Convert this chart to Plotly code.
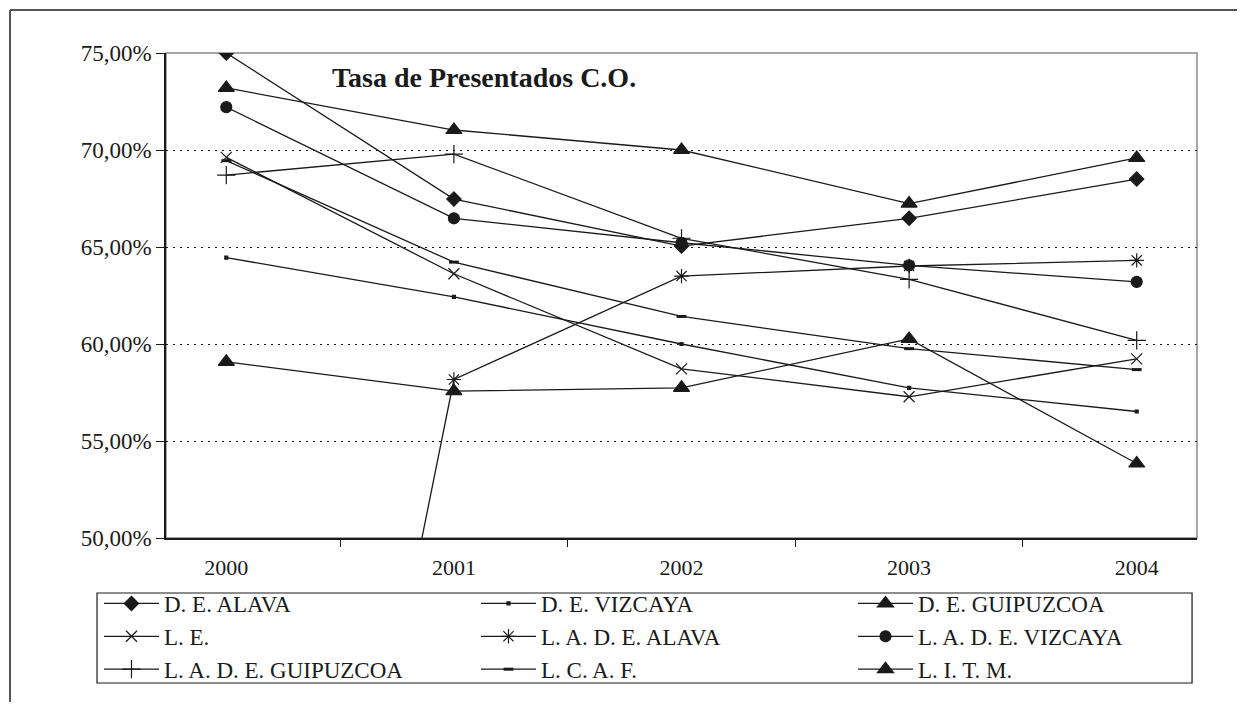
import plotly.graph_objects as go

years = ["2000", "2001", "2002", "2003", "2004"]

de_alava = [75.0, 67.47, 65.05, 66.48, 68.5]
de_vizcaya = [64.45, 62.43, 60.0, 57.74, 56.52]
de_guipuzcoa = [73.2, 71.03, 70.0, 67.24, 69.59]
le = [69.62, 63.62, 58.72, 57.28, 59.23]
lade_alava = [0.0, 58.17, 63.5, 64.02, 64.31]
lade_vizcaya = [72.21, 66.48, 65.22, 64.05, 63.2]
lade_guipuzcoa = [68.71, 69.79, 65.45, 63.33, 60.19]
lcaf = [69.45, 64.22, 61.42, 59.76, 58.68]
litm = [59.08, 57.57, 57.74, 60.26, 53.84]

series = [
    ("D. E. ALAVA", de_alava, "diamond", 11),
    ("D. E. VIZCAYA", de_vizcaya, "square", 3),
    ("D. E. GUIPUZCOA", de_guipuzcoa, "triangle-up", 14),
    ("L. E.", le, "x-thin-open", 11),
    ("L. A. D. E. ALAVA", lade_alava, "asterisk-open", 12),
    ("L. A. D. E. VIZCAYA", lade_vizcaya, "circle", 11),
    ("L. A. D. E. GUIPUZCOA", lade_guipuzcoa, "cross-thin-open", 13),
    ("L. C. A. F.", lcaf, "line-ew-open", 7),
    ("L. I. T. M.", litm, "triangle-up", 14),
]

SERIF = "Liberation Serif, Times New Roman, serif"

fig = go.Figure()
for name, values, symbol, size in series:
    marker = dict(symbol=symbol, size=size, color="#1a1a1a",
                  line=dict(color="#1a1a1a", width=1.2))
    if symbol == "line-ew-open":
        marker["line"]["width"] = 3
    fig.add_trace(go.Scatter(
        x=years, y=values, name=name, mode="lines+markers",
        line=dict(color="#1a1a1a", width=1.3),
        marker=marker,
    ))

# the page adds an 8px body margin, so the figure is shrunk and shifted by 8px
fig.update_layout(
    width=1229, height=694,
    margin=dict(l=158, r=40, t=45, b=164, autoexpand=False),
    paper_bgcolor="white", plot_bgcolor="white",
    separators=",.",
    font=dict(family=SERIF, size=22, color="#1a1a1a"),
    showlegend=True,
    legend=dict(
        orientation="h", x=-0.065, y=-0.0906, xanchor="left", yanchor="top",
        entrywidth=307, itemwidth=55, borderwidth=0,
        bgcolor="rgba(0,0,0,0)",
        font=dict(family=SERIF, size=23, color="#1a1a1a"),
        traceorder="normal",
    ),
    annotations=[dict(
        text="<b>Tasa de Presentados C.O.</b>", xref="paper", yref="paper",
        x=0.159, y=0.9505, xanchor="left", yanchor="middle", showarrow=False,
        font=dict(family=SERIF, size=28, color="#1a1a1a"),
    )],
    shapes=[
        # plot area frame
        dict(type="rect", xref="paper", yref="paper", x0=0, y0=0, x1=1, y1=1,
             line=dict(color="#8a8a8a", width=1.5), layer="below"),
        # legend frame
        dict(type="rect", xref="paper", yref="paper", x0=-0.0669, y0=-0.299,
             x1=0.9952, y1=-0.1134, line=dict(color="#1a1a1a", width=1.2)),
        # chart frame: only its left and top edges are in view
        dict(type="line", xref="paper", yref="paper", x0=-0.1513, y0=-0.45,
             x1=-0.1513, y1=1.0887, line=dict(color="#555555", width=2)),
        dict(type="line", xref="paper", yref="paper", x0=-0.1513, y0=1.0887,
             x1=1.1, y1=1.0887, line=dict(color="#555555", width=2)),
    ],
)

fig.update_xaxes(
    type="category", tickson="boundaries", ticks="outside", ticklen=7,
    tickcolor="#1a1a1a", showline=True, linecolor="#1a1a1a", linewidth=1.5,
    showgrid=False, tickfont=dict(family=SERIF, size=22),
    ticklabelstandoff=9,
)
fig.update_yaxes(
    range=[50, 75], dtick=5, tickformat=".2f", ticksuffix="%",
    ticks="outside", ticklen=8, tickcolor="#1a1a1a",
    showline=True, linecolor="#1a1a1a", linewidth=1.5,
    showgrid=True, gridcolor="#1a1a1a", griddash="2px,5px", gridwidth=1.2,
    zeroline=False, tickfont=dict(family=SERIF, size=23),
    ticklabelstandoff=0,
)

fig.write_html("out.html")
